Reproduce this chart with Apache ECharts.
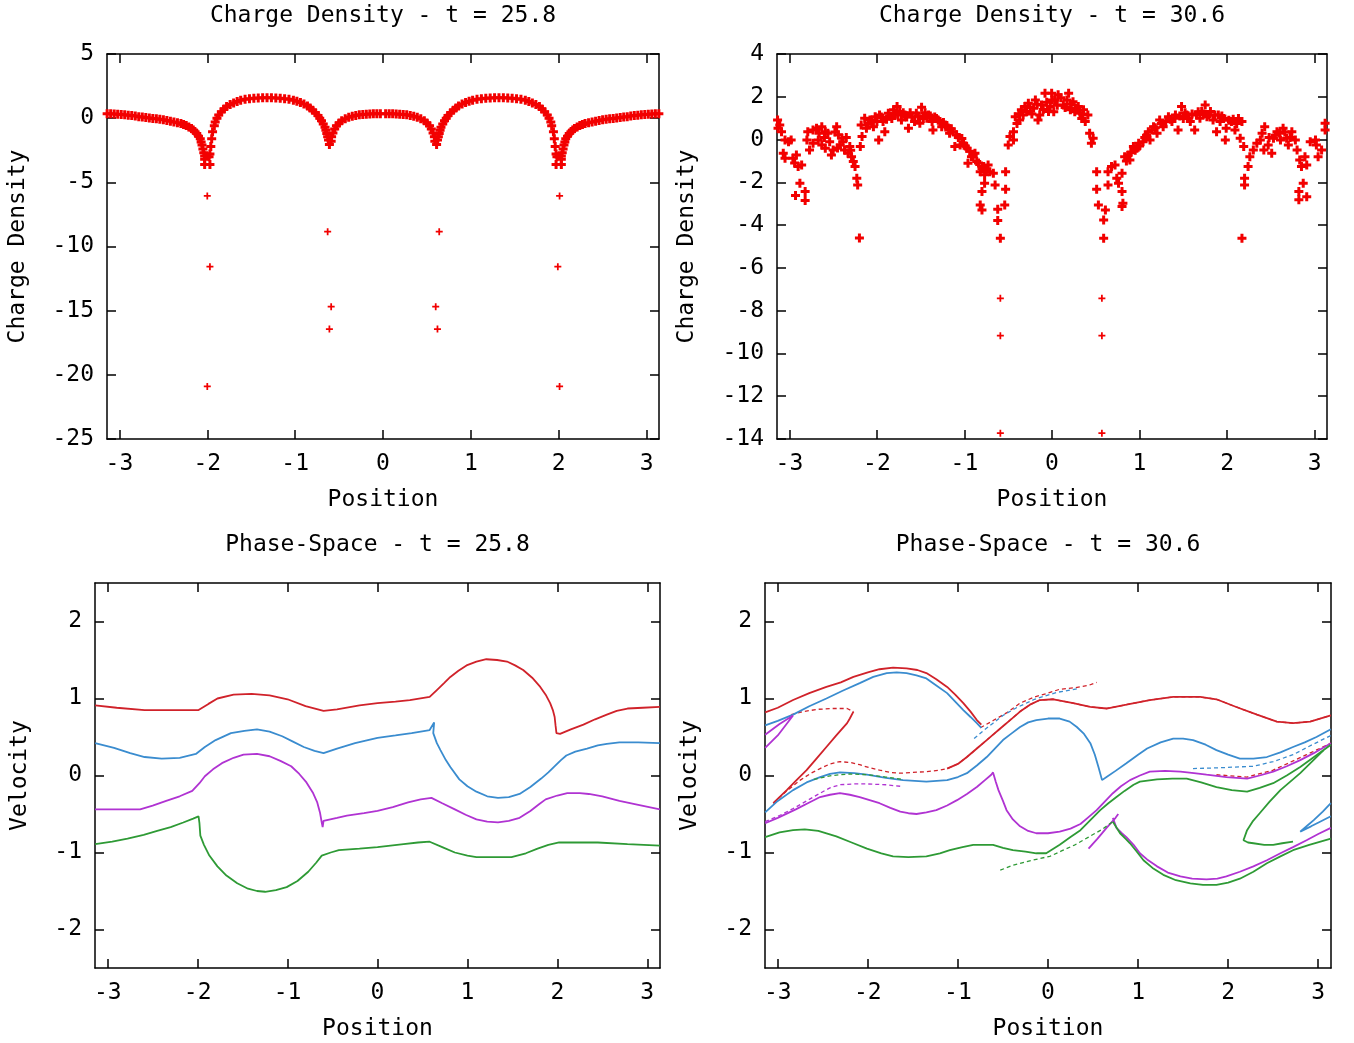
<!DOCTYPE html>
<html>
<head>
<meta charset="utf-8">
<script src="https://cdn.jsdelivr.net/npm/echarts@6/dist/echarts.min.js"></script>
<style>html,body{margin:0;padding:0;background:#fff}#c{width:1354px;height:1043px}</style>
</head>
<body>
<div id="c"></div>
<script>
// ---------- tick labels ----------
const xTicks = [-3, -2, -1, 0, 1, 2, 3];
const vTicks = [-2, -1, 0, 1, 2];
const titles = ['Charge Density - t = 25.8', 'Charge Density - t = 30.6', 'Phase-Space - t = 25.8', 'Phase-Space - t = 30.6'];

// ---------- Charge density, t = 25.8 ----------
const tlLeft = [[-3.14,0.35],[-3.10,0.34],[-3.06,0.32],[-3.02,0.30],[-2.98,0.28],[-2.94,0.26],[-2.90,0.23],[-2.86,0.20],[-2.82,0.16],[-2.78,0.12],[-2.74,0.09],[-2.70,0.05],[-2.66,0.02],[-2.62,-0.02],[-2.58,-0.05],[-2.54,-0.09],[-2.50,-0.13],[-2.46,-0.18],[-2.42,-0.24],[-2.38,-0.29],[-2.34,-0.35],[-2.30,-0.42],[-2.27,-0.50],[-2.24,-0.58],[-2.21,-0.68],[-2.18,-0.80],[-2.16,-0.92],[-2.14,-1.05],[-2.12,-1.2],[-2.10,-1.4],[-2.08,-1.6],[-2.07,-1.85],[-2.06,-2.1],[-2.05,-2.4],[-2.04,-2.7],[-2.03,-2.95],[-2.03,-3.2],[-2.03,-3.62],
[-1.97,-3.62],[-1.98,-3.0],[-1.97,-2.8],[-1.96,-2.2],[-1.95,-1.6],[-1.94,-1.05],[-1.92,-0.6],[-1.91,-0.3],[-1.89,0.0],[-1.87,0.25],[-1.84,0.5],[-1.81,0.72],[-1.78,0.9],[-1.74,1.06],[-1.70,1.18],[-1.66,1.3],[-1.62,1.4],[-1.57,1.47],[-1.52,1.52],[-1.47,1.55],[-1.42,1.58],[-1.37,1.6],[-1.32,1.6],[-1.27,1.6],[-1.22,1.58],[-1.17,1.56],[-1.12,1.52],[-1.07,1.47],[-1.02,1.4],[-0.98,1.32],[-0.94,1.22],[-0.90,1.1],[-0.86,0.95],[-0.83,0.8],[-0.80,0.62],[-0.77,0.42],[-0.74,0.2],[-0.72,0.0],[-0.70,-0.2],[-0.68,-0.45],[-0.66,-0.7],[-0.65,-0.95],[-0.64,-1.2],[-0.63,-1.45],[-0.62,-1.7],[-0.61,-2.05],
[-0.59,-1.8],[-0.585,-1.45],[-0.57,-1.15],[-0.55,-0.85],[-0.53,-0.6],[-0.50,-0.38],[-0.47,-0.2],[-0.43,-0.05],[-0.39,0.07],[-0.35,0.15],[-0.31,0.21],[-0.27,0.26],[-0.23,0.29],[-0.19,0.31],[-0.15,0.33],[-0.11,0.34],[-0.07,0.35],[-0.03,0.35]];
const tlRight = [[0.03,0.35],[0.07,0.35],[0.11,0.34],[0.15,0.33],[0.19,0.31],[0.23,0.29],[0.27,0.26],[0.31,0.21],[0.35,0.15],[0.39,0.07],[0.43,-0.05],[0.47,-0.2],[0.50,-0.38],[0.53,-0.6],[0.55,-0.85],[0.57,-1.15],[0.585,-1.45],[0.59,-1.8],[0.61,-2.05],
[0.62,-1.7],[0.63,-1.45],[0.64,-1.2],[0.65,-0.95],[0.66,-0.7],[0.68,-0.45],[0.70,-0.2],[0.72,0.0],[0.74,0.2],[0.77,0.42],[0.80,0.62],[0.83,0.8],[0.86,0.95],[0.90,1.1],[0.94,1.22],[0.98,1.32],[1.02,1.4],[1.07,1.47],[1.12,1.52],[1.17,1.56],[1.22,1.58],[1.27,1.6],[1.32,1.6],[1.37,1.6],[1.42,1.58],[1.47,1.55],[1.52,1.52],[1.57,1.47],[1.62,1.4],[1.66,1.3],[1.70,1.18],[1.74,1.06],[1.78,0.9],[1.81,0.72],[1.84,0.5],[1.87,0.25],[1.89,0.0],[1.91,-0.3],[1.92,-0.6],[1.94,-1.05],[1.95,-1.6],[1.96,-2.2],[1.97,-2.8],[1.98,-3.0],[1.97,-3.62],
[2.03,-3.62],[2.03,-3.2],[2.03,-2.95],[2.04,-2.7],[2.05,-2.4],[2.06,-2.1],[2.07,-1.85],[2.08,-1.6],[2.10,-1.4],[2.12,-1.2],[2.14,-1.05],[2.16,-0.92],[2.18,-0.80],[2.21,-0.68],[2.24,-0.58],[2.27,-0.50],[2.30,-0.42],[2.34,-0.35],[2.38,-0.29],[2.42,-0.24],[2.46,-0.18],[2.50,-0.13],[2.54,-0.09],[2.58,-0.05],[2.62,-0.02],[2.66,0.02],[2.70,0.05],[2.74,0.09],[2.78,0.12],[2.82,0.16],[2.86,0.20],[2.90,0.23],[2.94,0.26],[2.98,0.28],[3.02,0.30],[3.06,0.32],[3.10,0.34],[3.14,0.35]];
const tlOutliers = [[-2.0,-6.06],[-1.97,-11.57],[-2.0,-20.9],[-0.63,-8.85],[-0.59,-14.69],[-0.61,-16.43],[0.64,-8.85],[0.6,-14.69],[0.62,-16.43],[2.01,-6.06],[1.99,-11.57],[2.01,-20.9]];

// ---------- Charge density, t = 30.6 ----------
const trLeft = [[-3.135,0.92],[-3.11,0.68],[-3.13,0.53],[-3.09,0.37],[-3.05,-0.02],[-3.01,-0.1],[-2.98,-0.02],[-3.07,-0.64],[-3.05,-0.87],[-2.96,-0.87],[-2.94,-1.1],[-2.9,-1.26],[-2.86,-1.19],[-2.92,-0.72],[-2.88,-2.04],[-2.93,-2.62],[-2.82,-2.43],[-2.82,-2.85],[-2.79,0.37],[-2.8,-0.02],[-2.77,-0.49],[-2.73,0.45],[-2.69,0.53],[-2.63,0.6],[-2.59,0.37],[-2.67,-0.02],[-2.73,-0.17],[-2.63,-0.25],[-2.59,-0.41],[-2.56,0.29],[-2.54,-0.1],[-2.5,-0.49],[-2.52,-0.72],[-2.46,0.6],[-2.44,0.22],[-2.4,0.06],[-2.42,-0.25],[-2.39,-0.1],[-2.37,-0.49],[-2.33,-0.64],[-2.31,-0.33],[-2.29,-0.8],[-2.27,-1.03],[-2.25,-1.26],[-2.23,-1.81],[-2.22,-2.12],[-2.2,-4.6],
[-2.18,0.68],[-2.17,0.14],[-2.19,-0.33],[-2.14,1.0],[-2.12,0.53],[-2.08,0.92],[-2.04,0.6],[-2.02,1.07],[-1.98,-0.02],[-2.0,0.84],[-1.97,1.15],[-1.93,0.84],[-1.91,0.37],[-1.87,1.23],[-1.83,0.99],[-1.81,1.39],[-1.77,1.54],[-1.76,1.15],[-1.74,1.31],[-1.72,0.92],[-1.68,1.15],[-1.64,0.53],[-1.6,1.07],[-1.57,0.84],[-1.55,1.23],[-1.49,1.51],[-1.51,0.76],[-1.47,0.99],[-1.41,1.15],[-1.37,0.84],[-1.36,0.45],[-1.32,0.99],[-1.28,0.84],[-1.26,0.6],[-1.22,0.68],[-1.18,0.45],[-1.17,0.29],[-1.13,0.37],[-1.09,0.22],[-1.11,-0.33],[-1.05,-0.25],[-1.01,-0.17],[-0.97,-0.41],[-0.96,-1.11],[-0.92,-0.8],[-0.88,-0.64],[-0.86,-1.03],[-0.82,-1.5],[-0.78,-1.26],[-0.77,-1.65],[-0.73,-1.19],[-0.71,-1.5],[-0.67,-1.58],[-0.77,-2.04],[-0.8,-2.43],[-0.82,-3.06],[-0.8,-3.29],[-0.65,-2.12],[-0.62,-3.26],[-0.62,-3.79],[-0.59,-4.61],[-0.54,-3.06],[-0.53,-2.32],[-0.53,-1.5],[-0.5,-0.25],[-0.48,0.14],[-0.44,-0.02],[-0.44,0.37],[-0.42,1.07],[-0.37,0.92],[-0.35,1.39],[-0.29,1.31],[-0.27,1.7],[-0.21,1.46],[-0.19,1.85],[-0.16,0.92],[-0.14,1.15],[-0.12,1.62],[-0.08,2.16],[-0.04,1.31],[0.0,1.85]];
const trRight = [[-0.004,2.16],[0.03,1.85],[0.07,2.09],[0.13,1.62],[0.19,2.16],[0.21,1.39],[0.24,1.77],[0.28,1.46],[0.32,1.23],[0.34,0.99],[0.36,1.39],[0.41,1.15],[0.43,0.29],[0.47,0.06],[0.45,-0.17],[0.51,-1.5],[0.51,-2.32],[0.53,-3.06],[0.59,-3.76],[0.59,-4.61],[0.61,-3.29],[0.64,-2.12],[0.64,-1.5],[0.68,-1.26],[0.72,-1.19],[0.74,-1.81],[0.76,-2.04],[0.8,-2.43],[0.8,-3.13],[0.81,-2.98],[0.8,-1.58],[0.83,-0.8],[0.87,-0.72],[0.89,-0.95],[0.93,-0.33],[0.97,-0.41],[0.99,-0.17],[1.04,-0.1],[1.1,0.37],[1.12,-0.02],[1.16,0.6],[1.2,0.29],[1.23,0.92],[1.27,0.6],[1.33,1.07],[1.37,0.84],[1.41,1.15],[1.44,0.45],[1.48,1.54],[1.5,0.99],[1.54,1.15],[1.58,0.84],[1.63,0.45],[1.65,1.15],[1.71,1.31],[1.75,1.62],[1.77,1.07],[1.81,1.31],[1.84,0.92],[1.88,0.37],[1.9,1.15],[1.96,0.99],[1.98,-0.02],[1.99,0.53],[2.05,0.84],[2.09,0.45],[2.13,0.99],[2.15,0.06],[2.19,-0.33],[2.2,-1.81],[2.2,-2.12],[2.17,-4.61],[2.24,-1.26],[2.26,-0.8],[2.3,-0.49],[2.34,-0.17],[2.38,-0.02],[2.43,0.6],[2.42,-0.49],[2.47,-0.25],[2.51,-0.64],[2.53,0.06],[2.57,0.37],[2.61,-0.02],[2.64,0.53],[2.68,0.06],[2.7,-0.25],[2.74,0.37],[2.78,-0.02],[2.8,-0.49],[2.83,-0.95],[2.85,-1.26],[2.87,-2.04],[2.82,-2.43],[2.91,-2.67],[2.82,-2.82],[2.89,-0.8],[2.91,-1.19],[2.95,-0.1],[3.01,-0.02],[3.02,-0.25],[3.04,-0.8],[3.08,-0.49],[3.12,0.76],[3.12,0.45]];
const trDense = [[-2.1,0.75],[-2.06,0.85],[-1.95,1.05],[-1.89,0.95],[-1.85,1.1],[-1.79,1.2],[-1.7,1.25],[-1.66,1.05],[-1.62,1.25],[-1.53,1.1],[-1.45,1.25],[-1.43,1.0],[-1.39,1.1],[-1.34,1.05],[-1.3,0.9],[-1.24,0.8],[-1.2,0.65],[-1.15,0.5],[-1.07,0.1],[-1.03,0.05],[-0.99,-0.3],[-0.94,-0.55],[-0.9,-0.75],[-0.84,-1.1],[-0.8,-1.35],[-0.75,-1.4],
[-0.4,0.75],[-0.38,1.2],[-0.33,1.15],[-0.31,1.55],[-0.25,1.5],[-0.23,1.2],[-0.17,1.65],[-0.1,1.4],[-0.06,1.75],[-0.02,1.55],[0.02,1.3],[0.06,1.6],[0.1,1.95],[0.15,1.5],[0.17,1.85],[0.22,1.65],[0.26,1.3],[0.3,1.55],[0.35,1.2],[0.38,0.85],
[0.85,-1.0],[0.9,-0.6],[0.95,-0.5],[1.0,-0.3],[1.06,0.1],[1.08,0.2],[1.14,0.45],[1.18,0.55],[1.25,0.75],[1.3,0.85],[1.35,0.95],[1.4,1.0],[1.46,1.1],[1.52,1.25],[1.56,1.0],[1.6,1.2],[1.67,1.3],[1.69,1.0],[1.73,1.2],[1.79,1.15],[1.86,1.15],[1.92,0.85],[1.94,1.1],[2.02,0.9],[2.07,0.95],[2.11,0.75],[2.17,0.85],
[-2.66,0.3],[-2.6,0.1],[-2.48,0.35],[-2.45,-0.4],[-2.35,0.1],[-2.3,-0.5],[2.4,0.3],[2.48,0.1],[2.55,0.2],[2.6,0.3],[2.66,0.35],[2.72,0.1]];
const trOutliers = [[-0.59,-7.42],[-0.59,-9.17],[-0.59,-13.73],[0.57,-7.42],[0.57,-9.17],[0.57,-13.73]];

// ---------- Phase space, t = 25.8 ----------
const blRed = [[-3.14,0.91],[-2.9,0.88],[-2.59,0.85],[-2.3,0.85],[-1.99,0.85],[-1.88,0.93],[-1.78,1.0],[-1.6,1.05],[-1.4,1.06],[-1.2,1.04],[-1.0,0.99],[-0.8,0.9],[-0.6,0.84],[-0.45,0.86],[-0.2,0.91],[0,0.94],[0.2,0.96],[0.36,0.98],[0.58,1.02],[0.66,1.11],[0.74,1.2],[0.81,1.28],[0.9,1.36],[0.99,1.43],[1.1,1.48],[1.21,1.51],[1.33,1.5],[1.44,1.48],[1.53,1.43],[1.62,1.37],[1.72,1.27],[1.81,1.15],[1.87,1.05],[1.92,0.94],[1.95,0.85],[1.97,0.76],[1.98,0.65],[1.99,0.55],[2.03,0.54],[2.15,0.6],[2.29,0.66],[2.42,0.73],[2.55,0.79],[2.66,0.84],[2.78,0.87],[2.95,0.88],[3.14,0.89]];
const blBlue = [[-3.14,0.42],[-2.93,0.36],[-2.75,0.29],[-2.59,0.24],[-2.4,0.22],[-2.2,0.23],[-2.02,0.28],[-1.92,0.37],[-1.8,0.46],[-1.63,0.55],[-1.48,0.58],[-1.34,0.6],[-1.2,0.57],[-1.06,0.51],[-0.94,0.44],[-0.82,0.37],[-0.7,0.32],[-0.6,0.29],[-0.45,0.35],[-0.25,0.42],[0,0.49],[0.2,0.52],[0.38,0.55],[0.58,0.59],[0.63,0.69],[0.62,0.55],[0.66,0.42],[0.7,0.33],[0.76,0.2],[0.81,0.11],[0.91,-0.05],[1.0,-0.14],[1.1,-0.21],[1.22,-0.27],[1.34,-0.29],[1.46,-0.28],[1.58,-0.24],[1.7,-0.15],[1.82,-0.04],[1.9,0.04],[1.96,0.11],[2.04,0.2],[2.1,0.26],[2.2,0.31],[2.33,0.35],[2.45,0.39],[2.55,0.41],[2.69,0.43],[2.9,0.43],[3.14,0.42]];
const blPurple = [[-3.14,-0.44],[-2.9,-0.44],[-2.64,-0.44],[-2.5,-0.39],[-2.35,-0.33],[-2.2,-0.27],[-2.06,-0.2],[-1.98,-0.1],[-1.92,-0.01],[-1.83,0.08],[-1.73,0.16],[-1.6,0.23],[-1.49,0.27],[-1.34,0.28],[-1.2,0.25],[-1.08,0.19],[-0.96,0.12],[-0.87,0.02],[-0.79,-0.09],[-0.72,-0.22],[-0.67,-0.35],[-0.64,-0.48],[-0.62,-0.61],[-0.61,-0.67],[-0.6,-0.59],[-0.45,-0.55],[-0.34,-0.52],[-0.15,-0.49],[0,-0.46],[0.17,-0.41],[0.34,-0.35],[0.48,-0.31],[0.6,-0.29],[0.72,-0.36],[0.86,-0.44],[0.98,-0.51],[1.1,-0.57],[1.22,-0.6],[1.34,-0.61],[1.46,-0.59],[1.58,-0.55],[1.7,-0.46],[1.8,-0.37],[1.87,-0.31],[2.0,-0.26],[2.11,-0.23],[2.25,-0.23],[2.35,-0.24],[2.5,-0.27],[2.69,-0.33],[2.9,-0.38],[3.14,-0.44]];
const blGreen = [[-3.14,-0.89],[-2.95,-0.86],[-2.78,-0.82],[-2.6,-0.77],[-2.45,-0.72],[-2.3,-0.67],[-2.16,-0.61],[-2.05,-0.56],[-1.99,-0.53],[-1.98,-0.62],[-1.97,-0.78],[-1.93,-0.9],[-1.87,-1.04],[-1.78,-1.18],[-1.68,-1.3],[-1.56,-1.4],[-1.44,-1.47],[-1.34,-1.5],[-1.25,-1.51],[-1.13,-1.49],[-1.01,-1.45],[-0.89,-1.37],[-0.77,-1.25],[-0.68,-1.13],[-0.62,-1.04],[-0.52,-1.0],[-0.43,-0.97],[-0.2,-0.95],[0,-0.93],[0.29,-0.89],[0.45,-0.87],[0.58,-0.86],[0.72,-0.93],[0.86,-1.0],[1.0,-1.04],[1.1,-1.06],[1.3,-1.06],[1.49,-1.06],[1.65,-1.01],[1.78,-0.95],[1.9,-0.9],[2.02,-0.87],[2.2,-0.87],[2.45,-0.87],[2.78,-0.89],[3.14,-0.91]];

// ---------- Phase space, t = 30.6 ----------
const brRedArc = [[-3.14,0.82],[-3.0,0.88],[-2.83,0.98],[-2.65,1.07],[-2.46,1.15],[-2.3,1.21],[-2.16,1.28],[-2.0,1.34],[-1.87,1.38],[-1.72,1.4],[-1.57,1.39],[-1.45,1.37],[-1.35,1.33],[-1.24,1.25],[-1.12,1.15],[-1.03,1.05],[-0.94,0.94],[-0.86,0.83],[-0.79,0.72],[-0.74,0.66]];
const brRedMain = [[-3.05,-0.36],[-2.9,-0.2],[-2.75,-0.06],[-2.63,0.03],[-2.53,0.09],[-2.42,0.15],[-2.31,0.18],[-2.2,0.17],[-2.09,0.14],[-1.98,0.1],[-1.87,0.07],[-1.75,0.04],[-1.64,0.03],[-1.5,0.04],[-1.35,0.05],[-1.2,0.07],[-1.12,0.09],[-1.0,0.15],[-0.9,0.24],[-0.79,0.35],[-0.68,0.46],[-0.6,0.54],[-0.53,0.61],[-0.42,0.72],[-0.31,0.83],[-0.2,0.92],[-0.09,0.98],[0.06,0.99],[0.28,0.94],[0.47,0.89],[0.65,0.87],[0.87,0.92],[1.13,0.98],[1.39,1.02],[1.69,1.02],[1.87,0.99],[2.09,0.89],[2.32,0.79],[2.54,0.7],[2.72,0.68],[2.91,0.7],[3.14,0.78]];
const brRedHook = [[-3.05,-0.36],[-2.9,-0.19],[-2.8,-0.07],[-2.68,0.07],[-2.57,0.22],[-2.46,0.37],[-2.35,0.52],[-2.23,0.68],[-2.2,0.74],[-2.16,0.83]];
const brRedHookTop = [[-2.85,0.79],[-2.72,0.83],[-2.55,0.86],[-2.4,0.87],[-2.23,0.87],[-2.16,0.83]];
const brRedFil = [[-0.75,0.62],[-0.6,0.72],[-0.45,0.82],[-0.31,0.94],[-0.15,1.02],[0.0,1.07],[0.13,1.12],[0.3,1.14],[0.45,1.17],[0.54,1.21]];
const brRedDash = [[1.87,0.01],[2.21,-0.02],[2.5,0.07],[2.87,0.27],[3.14,0.42]];
const brBlueArc = [[-3.14,0.65],[-3.0,0.71],[-2.83,0.79],[-2.65,0.9],[-2.46,1.0],[-2.28,1.1],[-2.09,1.2],[-1.94,1.28],[-1.79,1.33],[-1.68,1.34],[-1.57,1.33],[-1.46,1.3],[-1.35,1.26],[-1.24,1.17],[-1.12,1.07],[-1.03,0.96],[-0.94,0.85],[-0.86,0.76],[-0.79,0.68],[-0.74,0.62]];
const brBlueMain = [[-3.14,-0.48],[-3.0,-0.33],[-2.83,-0.19],[-2.68,-0.09],[-2.53,-0.02],[-2.42,0.02],[-2.31,0.04],[-2.15,0.03],[-2.01,0.01],[-1.8,-0.03],[-1.61,-0.06],[-1.35,-0.08],[-1.12,-0.06],[-1.0,-0.02],[-0.9,0.03],[-0.79,0.13],[-0.68,0.24],[-0.59,0.35],[-0.5,0.46],[-0.4,0.55],[-0.31,0.63],[-0.22,0.69],[-0.13,0.72],[0.0,0.74],[0.13,0.74],[0.24,0.7],[0.32,0.63],[0.4,0.54],[0.47,0.42],[0.52,0.27],[0.56,0.11],[0.6,-0.06],[0.65,-0.02],[0.75,0.06],[0.87,0.16],[1.0,0.27],[1.1,0.35],[1.25,0.43],[1.39,0.48],[1.5,0.48],[1.61,0.46],[1.75,0.4],[1.87,0.33],[2.0,0.27],[2.13,0.22],[2.28,0.22],[2.43,0.24],[2.58,0.3],[2.72,0.37],[2.85,0.43],[2.98,0.5],[3.14,0.6]];
const brBlueFil = [[-0.82,0.48],[-0.72,0.58],[-0.61,0.68],[-0.5,0.78],[-0.35,0.88],[-0.15,0.99],[0.1,1.08],[0.35,1.13]];
const brBlueDash = [[1.61,0.09],[1.9,0.1],[2.28,0.12],[2.5,0.18],[2.72,0.27],[2.9,0.38],[3.14,0.52]];
const brBlueHook = [[3.14,-0.36],[3.05,-0.47],[2.95,-0.58],[2.88,-0.65],[2.8,-0.73],[2.92,-0.66],[3.02,-0.6],[3.14,-0.53]];
const brPurpleWedge = [[-3.14,0.53],[-2.98,0.67],[-2.83,0.78],[-3.0,0.52],[-3.14,0.36]];
const brPurpleDash = [[-3.14,-0.6],[-2.98,-0.52],[-2.83,-0.43],[-2.68,-0.33],[-2.53,-0.23],[-2.42,-0.16],[-2.31,-0.12],[-2.15,-0.11],[-2.01,-0.11],[-1.8,-0.12],[-1.64,-0.14]];
const brPurpleMain = [[-3.14,-0.62],[-3.0,-0.55],[-2.8,-0.44],[-2.65,-0.35],[-2.53,-0.28],[-2.42,-0.25],[-2.31,-0.23],[-2.2,-0.25],[-2.09,-0.28],[-1.98,-0.32],[-1.87,-0.36],[-1.75,-0.42],[-1.64,-0.47],[-1.55,-0.49],[-1.46,-0.5],[-1.35,-0.48],[-1.24,-0.45],[-1.12,-0.39],[-1.01,-0.32],[-0.9,-0.24],[-0.79,-0.15],[-0.7,-0.06],[-0.63,0.01],[-0.61,0.04],[-0.58,-0.08],[-0.55,-0.19],[-0.5,-0.33],[-0.46,-0.45],[-0.39,-0.57],[-0.31,-0.66],[-0.22,-0.72],[-0.13,-0.75],[0.0,-0.75],[0.13,-0.73],[0.25,-0.69],[0.36,-0.63],[0.45,-0.54],[0.54,-0.45],[0.63,-0.34],[0.72,-0.23],[0.81,-0.14],[0.91,-0.06],[1.02,0.0],[1.13,0.05],[1.3,0.06],[1.47,0.05],[1.62,0.03],[1.76,0.01],[1.98,-0.02],[2.21,-0.04],[2.35,0.0],[2.5,0.05],[2.65,0.12],[2.8,0.2],[2.95,0.29],[3.14,0.42]];
const brPurpleLoop = [[0.72,-0.55],[0.76,-0.68],[0.82,-0.75],[0.87,-0.8],[0.95,-0.9],[1.02,-1.01],[1.1,-1.09],[1.21,-1.18],[1.33,-1.26],[1.47,-1.31],[1.6,-1.34],[1.76,-1.35],[1.88,-1.34],[1.98,-1.31],[2.13,-1.25],[2.28,-1.18],[2.43,-1.1],[2.58,-1.01],[2.72,-0.93],[2.87,-0.84],[3.0,-0.76],[3.14,-0.68]];
const brPurpleFil = [[0.45,-0.95],[0.55,-0.82],[0.65,-0.68],[0.75,-0.55],[0.78,-0.5]];
const brGreenMain = [[-3.14,-0.8],[-2.98,-0.74],[-2.83,-0.71],[-2.7,-0.7],[-2.55,-0.72],[-2.35,-0.79],[-2.18,-0.87],[-2.01,-0.95],[-1.85,-1.01],[-1.72,-1.05],[-1.55,-1.06],[-1.35,-1.05],[-1.2,-1.01],[-1.09,-0.97],[-0.95,-0.93],[-0.83,-0.9],[-0.7,-0.9],[-0.61,-0.9],[-0.5,-0.94],[-0.39,-0.97],[-0.25,-0.99],[-0.13,-1.01],[-0.02,-1.01],[0.13,-0.9],[0.25,-0.8],[0.36,-0.71],[0.47,-0.58],[0.58,-0.45],[0.67,-0.36],[0.76,-0.28],[0.85,-0.2],[0.95,-0.12],[1.02,-0.08],[1.21,-0.05],[1.38,-0.04],[1.54,-0.04],[1.7,-0.09],[1.87,-0.15],[2.04,-0.19],[2.21,-0.21],[2.35,-0.16],[2.5,-0.1],[2.65,0.0],[2.8,0.11],[2.93,0.22],[3.06,0.33],[3.14,0.4]];
const brGreenHook = [[3.06,0.33],[2.93,0.18],[2.8,0.03],[2.69,-0.08],[2.58,-0.19],[2.46,-0.34],[2.35,-0.49],[2.27,-0.6],[2.21,-0.71],[2.17,-0.84],[2.22,-0.87],[2.28,-0.88],[2.4,-0.9],[2.5,-0.9],[2.6,-0.88],[2.72,-0.86]];
const brGreenLoop = [[0.72,-0.6],[0.8,-0.75],[0.86,-0.82],[0.91,-0.88],[0.98,-0.98],[1.06,-1.1],[1.16,-1.2],[1.28,-1.29],[1.42,-1.36],[1.58,-1.4],[1.72,-1.42],[1.87,-1.42],[2.0,-1.39],[2.13,-1.34],[2.28,-1.25],[2.43,-1.14],[2.58,-1.05],[2.72,-0.97],[2.9,-0.9],[3.14,-0.82]];
const brGreenFil = [[-0.53,-1.23],[-0.4,-1.17],[-0.24,-1.12],[-0.1,-1.08],[0.02,-1.05],[0.15,-0.98],[0.3,-0.9],[0.45,-0.8],[0.6,-0.7],[0.72,-0.6]];
const brGreenDash = [[-2.6,-0.05],[-2.4,0.0],[-2.2,0.02],[-2.0,0.01],[-1.8,-0.02],[-1.62,-0.05]];

// ---------- styling ----------
const FONT = 'DejaVu Sans Mono';
const FS = 23;
const PLUS = 'path://M3,0H6V3H9V6H6V9H3V6H0V3H3Z';
const PLUS_THIN = 'path://M3,0H5V3H8V5H5V8H3V5H0V3H3Z';
const RED = '#d0222a', BLUE = '#3a8ccf', PURPLE = '#b033d2', GREEN = '#2e9a35', DOT = '#f20000';
const PI = Math.PI;

const grids = [
  {left: 107, top: 54, width: 552, height: 385},
  {left: 777, top: 54, width: 550, height: 385},
  {left: 95, top: 583, width: 565, height: 385},
  {left: 765, top: 583, width: 566, height: 385}
];
const yRanges = [
  {min: -25, max: 5, interval: 5, name: 'Charge Density', gap: 77},
  {min: -14, max: 4, interval: 2, name: 'Charge Density', gap: 78},
  {min: -2.5, max: 2.5, custom: vTicks, name: 'Velocity', gap: 63},
  {min: -2.5, max: 2.5, custom: vTicks, name: 'Velocity', gap: 63}
];

const lineStyleAxis = {color: '#000', width: 1.5};
const xAxes = [], yAxes = [];
grids.forEach((g, i) => {
  const base = {type: 'value', gridIndex: i, min: -PI, max: PI, splitLine: {show: false},
    axisLine: {show: true, onZero: false, lineStyle: lineStyleAxis}};
  xAxes.push(Object.assign({}, base, {position: 'bottom',
    axisTick: {show: true, inside: true, length: 9, lineStyle: lineStyleAxis, customValues: xTicks},
    axisLabel: {show: true, customValues: xTicks, color: '#000', fontFamily: FONT, fontSize: FS, margin: 14},
    name: 'Position', nameLocation: 'middle', nameGap: 50,
    nameTextStyle: {color: '#000', fontFamily: FONT, fontSize: FS}}));
  xAxes.push(Object.assign({}, base, {position: 'top',
    axisTick: {show: true, inside: true, length: 9, lineStyle: lineStyleAxis, customValues: xTicks},
    axisLabel: {show: false}}));
  const r = yRanges[i];
  const yb = {type: 'value', gridIndex: i, min: r.min, max: r.max, splitLine: {show: false},
    axisLine: {show: true, onZero: false, lineStyle: lineStyleAxis}};
  if (r.interval) yb.interval = r.interval;
  const tick = {show: true, inside: true, length: 9, lineStyle: lineStyleAxis};
  const lab = {show: true, color: '#000', fontFamily: FONT, fontSize: FS, margin: 13};
  if (r.custom) { tick.customValues = r.custom; lab.customValues = r.custom; }
  yAxes.push(Object.assign({}, yb, {position: 'left', axisTick: tick, axisLabel: lab,
    name: r.name, nameLocation: 'middle', nameGap: r.gap,
    nameTextStyle: {color: '#000', fontFamily: FONT, fontSize: FS}}));
  yAxes.push(Object.assign({}, yb, {position: 'right', axisTick: Object.assign({}, tick), axisLabel: {show: false}}));
});

function dots(data, gi, thin) {
  return {type: 'scatter', xAxisIndex: gi * 2, yAxisIndex: gi * 2, data: data,
    symbol: thin ? PLUS_THIN : PLUS, symbolSize: thin ? 7 : 9, itemStyle: {color: DOT, opacity: 1}, silent: true, animation: false};
}
function curve(data, gi, color, dashed) {
  return {type: 'line', xAxisIndex: gi * 2, yAxisIndex: gi * 2, data: data, symbol: 'none', showSymbol: false,
    lineStyle: {color: color, width: dashed ? 1.3 : 1.8, type: dashed ? [4, 3] : 'solid'},
    silent: true, animation: false, clip: true};
}

const series = [
  dots(tlLeft, 0), dots(tlRight, 0), dots(tlOutliers, 0, true),
  dots(trLeft, 1), dots(trRight, 1), dots(trDense, 1), dots(trOutliers, 1, true),
  curve(blRed, 2, RED), curve(blBlue, 2, BLUE), curve(blPurple, 2, PURPLE), curve(blGreen, 2, GREEN),
  curve(brRedArc, 3, RED), curve(brRedMain, 3, RED, true), curve(brRedHook, 3, RED), curve(brRedHookTop, 3, RED, true),
  curve(brRedFil, 3, RED, true), curve(brRedDash, 3, RED, true),
  curve(brBlueArc, 3, BLUE), curve(brBlueMain, 3, BLUE), curve(brBlueFil, 3, BLUE, true), curve(brBlueDash, 3, BLUE, true), curve(brBlueHook, 3, BLUE),
  curve(brPurpleWedge, 3, PURPLE), curve(brPurpleDash, 3, PURPLE, true), curve(brPurpleMain, 3, PURPLE), curve(brPurpleLoop, 3, PURPLE), curve(brPurpleFil, 3, PURPLE),
  curve(brGreenMain, 3, GREEN), curve(brGreenHook, 3, GREEN), curve(brGreenLoop, 3, GREEN), curve(brGreenFil, 3, GREEN, true), curve(brGreenDash, 3, GREEN, true)
];
// the main red line is solid from x = -1.12 onward
series.push(curve(brRedMain.slice(16), 3, RED));

const titleCfg = titles.map((t, i) => ({
  text: t, left: grids[i].left + grids[i].width / 2, top: i < 2 ? 5 : 534, textAlign: 'center', padding: 0,
  textStyle: {color: '#000', fontFamily: FONT, fontSize: FS, fontWeight: 'normal'}
}));

const chart = echarts.init(document.getElementById('c'), null, {renderer: 'canvas'});
chart.setOption({
  backgroundColor: '#fff',
  animation: false,
  title: titleCfg,
  grid: grids,
  xAxis: xAxes,
  yAxis: yAxes,
  series: series
});
</script>
</body>
</html>
